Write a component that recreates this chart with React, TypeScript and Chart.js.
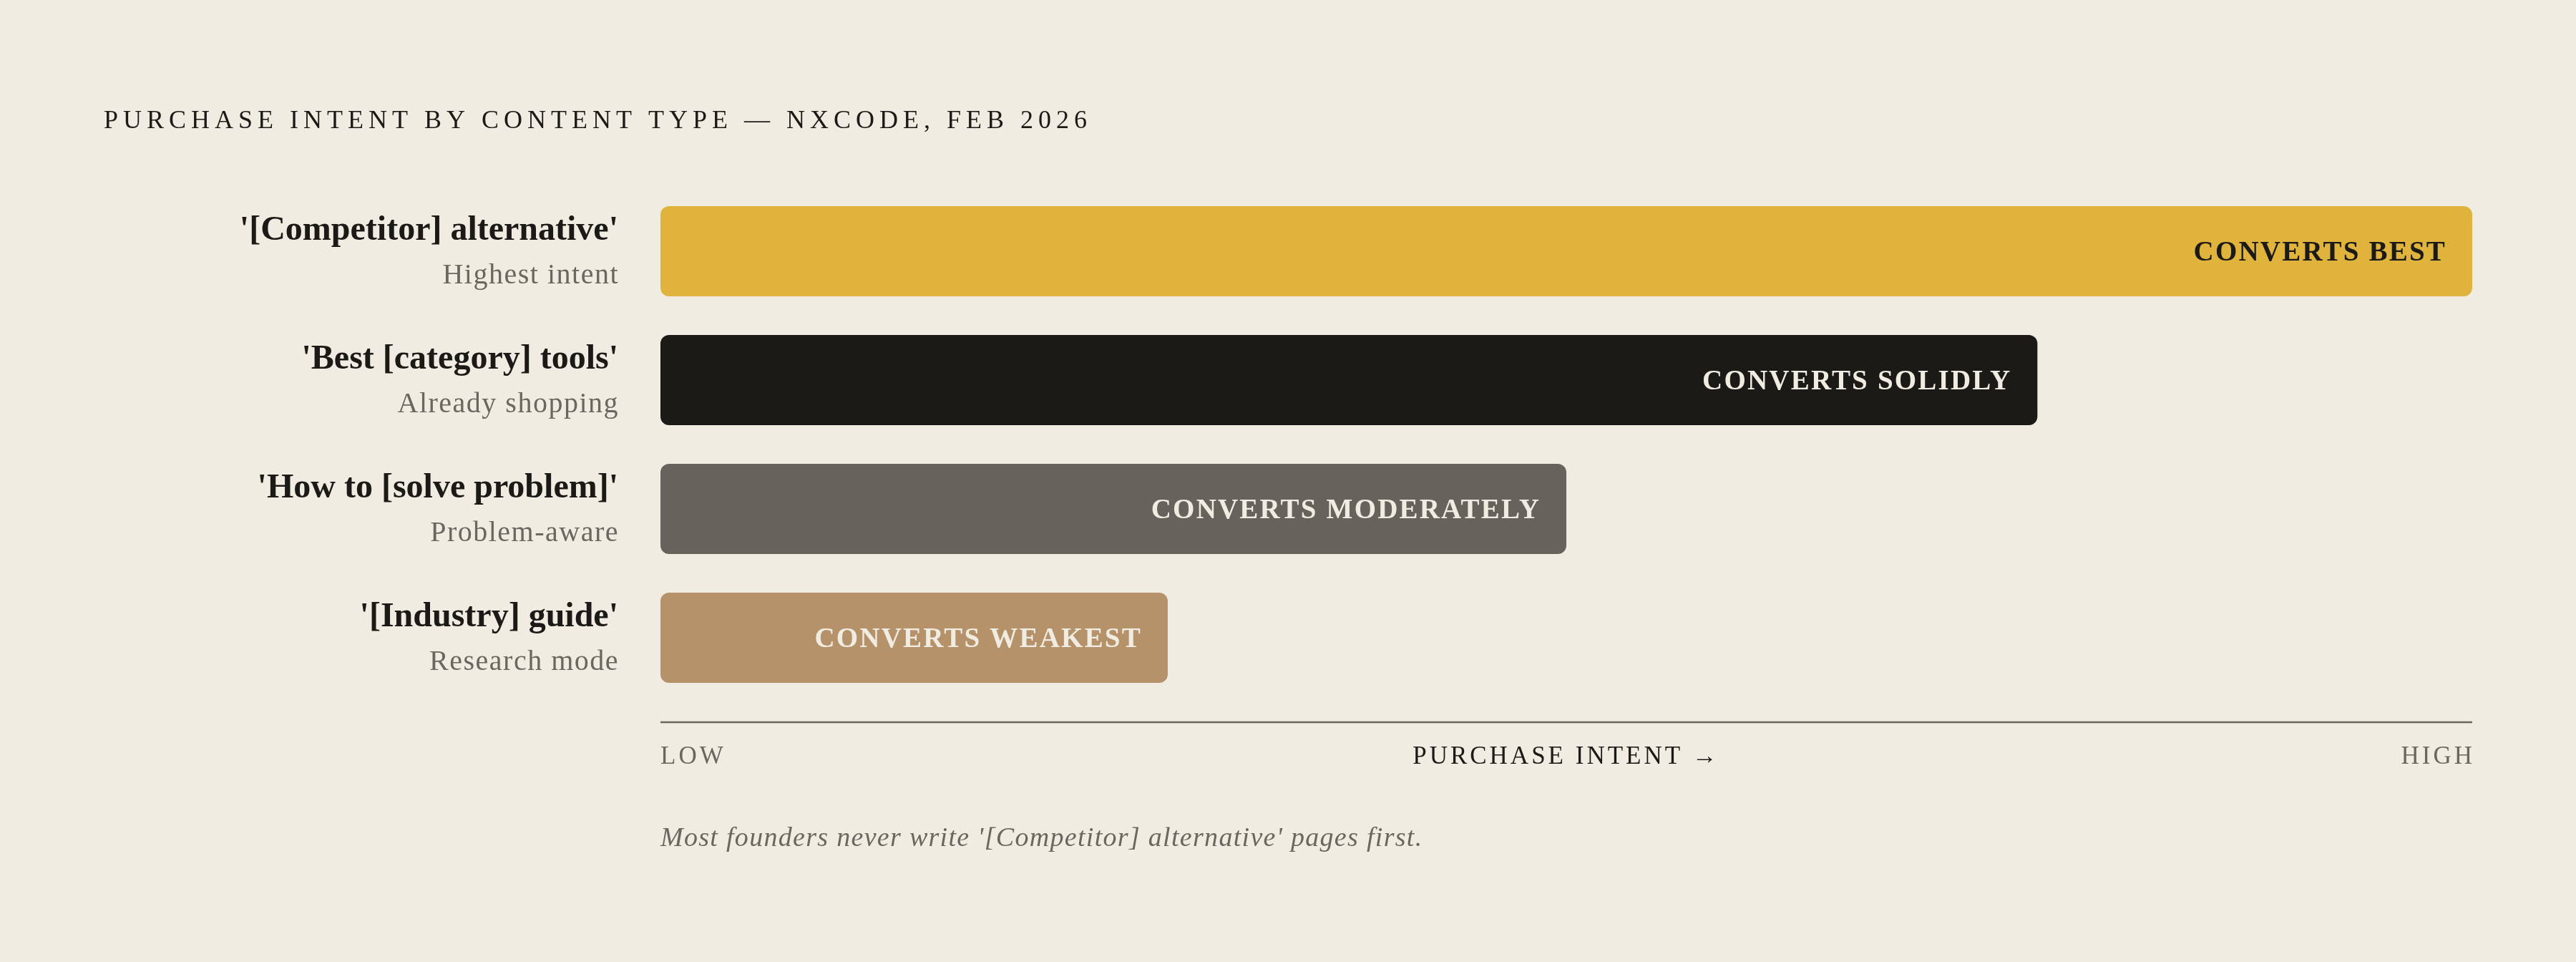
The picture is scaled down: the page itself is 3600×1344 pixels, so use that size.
import React, { useEffect, useRef } from 'react';
import Chart, { ChartConfiguration, Plugin } from 'chart.js/auto';

const categories = ["'[Competitor] alternative'", "'Best [category] tools'", "'How to [solve problem]'", "'[Industry] guide'"];
const subtitles = ['Highest intent', 'Already shopping', 'Problem-aware', 'Research mode'];
const intentScores = [100, 76, 50, 28];
const barLabels = ['CONVERTS BEST', 'CONVERTS SOLIDLY', 'CONVERTS MODERATELY', 'CONVERTS WEAKEST'];
const axisTicks = ['LOW', 'PURCHASE INTENT →', 'HIGH'];

const TITLE = 'PURCHASE INTENT BY CONTENT TYPE — NXCODE, FEB 2026';
const FOOTNOTE = "Most founders never write '[Competitor] alternative' pages first.";

const BG = '#F0ECE2';
const INK = '#1C1A17';
const MUTED = '#6B665E';
const FONT = '"Liberation Serif", "DejaVu Serif", serif';
const barColors = ['#E0B43C', '#1C1A17', '#67635C', '#B5926A'];
const barTextColors = ['#1C1A17', '#F0ECE2', '#F0ECE2', '#F0ECE2'];

const textPlugin: Plugin<'bar'> = {
  id: 'textLayer',
  afterDraw(chart) {
    const ctx = chart.ctx as any;
    const x = chart.scales.x;
    const meta = chart.getDatasetMeta(0);
    ctx.save();

    // title
    ctx.textBaseline = 'alphabetic';
    ctx.textAlign = 'left';
    ctx.fillStyle = INK;
    ctx.font = `36px ${FONT}`;
    ctx.letterSpacing = '7px';
    ctx.fillText(TITLE, 145, 179);

    // category labels + bar labels
    meta.data.forEach((bar: any, i: number) => {
      ctx.textAlign = 'right';
      ctx.letterSpacing = '0px';
      ctx.fillStyle = INK;
      ctx.font = `bold 48px ${FONT}`;
      ctx.fillText(categories[i], x.left - 59, bar.y - 16);
      ctx.fillStyle = MUTED;
      ctx.font = `40px ${FONT}`;
      ctx.letterSpacing = '1.5px';
      ctx.fillText(subtitles[i], x.left - 58, bar.y + 45);

      ctx.fillStyle = barTextColors[i];
      ctx.font = `bold 39px ${FONT}`;
      ctx.letterSpacing = '2.2px';
      ctx.fillText(barLabels[i], bar.x - 36, bar.y + 13);
    });

    // axis line
    const lineY = 1009;
    ctx.strokeStyle = MUTED;
    ctx.lineWidth = 2.5;
    ctx.beginPath();
    ctx.moveTo(x.left, lineY);
    ctx.lineTo(x.right, lineY);
    ctx.stroke();

    ctx.font = `35px ${FONT}`;
    ctx.letterSpacing = '4px';
    ctx.fillStyle = MUTED;
    ctx.textAlign = 'left';
    ctx.fillText(axisTicks[0], x.left, 1067);
    ctx.textAlign = 'right';
    ctx.fillText(axisTicks[2], x.right + 4, 1067);
    ctx.fillStyle = INK;
    ctx.textAlign = 'center';
    ctx.fillText(axisTicks[1], (x.left + x.right) / 2, 1067);

    ctx.font = `italic 38px ${FONT}`;
    ctx.letterSpacing = '1.3px';
    ctx.fillStyle = MUTED;
    ctx.textAlign = 'left';
    ctx.fillText(FOOTNOTE, x.left, 1182);

    ctx.restore();
  },
};

const App = () => {
  const chartRef = useRef<HTMLCanvasElement | null>(null);
  const chartInstance = useRef<Chart | null>(null);

  useEffect(() => {
    if (chartInstance.current) {
      chartInstance.current.destroy();
    }
    if (chartRef.current) {
      const ctx = chartRef.current.getContext('2d');
      if (ctx) {
        const config: ChartConfiguration<'bar', number[], string> = {
          type: 'bar',
          data: {
            labels: categories,
            datasets: [
              {
                label: 'Purchase intent',
                data: intentScores,
                backgroundColor: barColors,
                borderRadius: 12,
                borderSkipped: false,
                barPercentage: 0.7,
                categoryPercentage: 1,
              },
            ],
          },
          options: {
            indexAxis: 'y',
            responsive: true,
            maintainAspectRatio: false,
            animation: false,
            layout: {
              padding: { left: 923, right: 145, top: 261, bottom: 363 },
            },
            scales: {
              x: { display: false, min: 0, max: 100 },
              y: { display: false },
            },
            plugins: {
              legend: { display: false },
              tooltip: { enabled: false },
            },
          },
          plugins: [textPlugin],
        };
        chartInstance.current = new Chart(ctx, config);
      }
    }
    return () => {
      if (chartInstance.current) {
        chartInstance.current.destroy();
        chartInstance.current = null;
      }
    };
  }, []);

  return (
    <div style={{ position: 'fixed', left: 0, top: 0, width: '100vw', height: '100vh', background: BG }}>
      <canvas ref={chartRef} style={{ display: 'block' }} />
    </div>
  );
};

export default App;
